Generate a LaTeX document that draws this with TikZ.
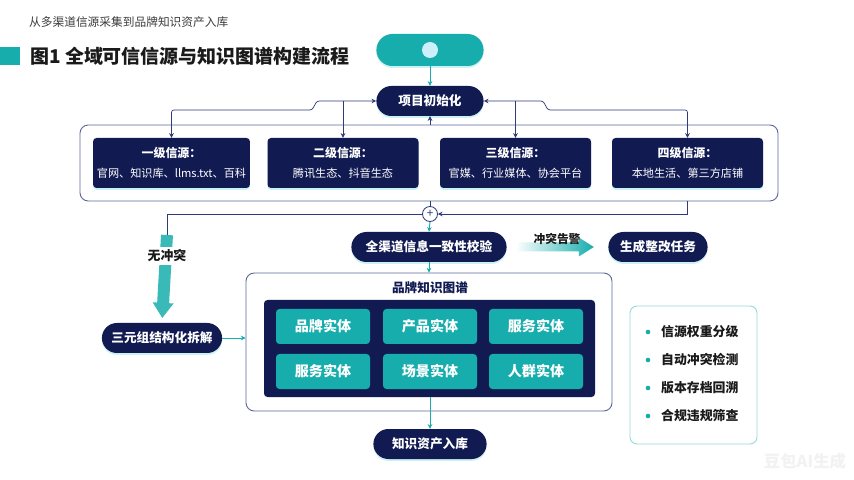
\documentclass[tikz,border=0pt]{standalone}
\usepackage{fontspec}
\setmainfont{Noto Sans CJK SC}
\usepackage{xcolor}
\usepackage{tikz}
\usetikzlibrary{shapes.misc,arrows.meta,shadows,calc}

\definecolor{navy}{HTML}{111B52}
\definecolor{tealc}{HTML}{17ADAD}
\definecolor{frameline}{HTML}{5C689C}
\definecolor{linec}{HTML}{2E3B78}
\definecolor{glow}{HTML}{BDEFF0}
\definecolor{textdark}{HTML}{1A1A1A}
\newlength\unitpx
\setlength\unitpx{0.03cm}
\newcommand{\fsz}[1]{\fontsize{#1}{#1}\selectfont}

\tikzset{
	glowshadow/.style={drop shadow={fill=glow, opacity=0.8, shadow xshift=0pt, shadow yshift=-1.6pt}},
	pill/.style={rounded rectangle, fill=navy, text=white, font=\fsz{10.8}\bfseries, minimum height=30*\unitpx, glowshadow},
	srcbox/.style={rectangle, rounded corners=3pt, fill=navy, text=white, align=center, font=\fontsize{9.5}{17}\selectfont, minimum width=151*\unitpx, minimum height=50*\unitpx, glowshadow},
	entity/.style={rectangle, rounded corners=3pt, fill=tealc, text=white, font=\fsz{12}\bfseries, minimum width=94*\unitpx, minimum height=35*\unitpx},
	panel/.style={rectangle, rounded corners=7pt, draw=frameline, line width=0.8pt, fill=white},
	conn/.style={draw=linec, line width=0.6pt},
	navytip/.style={-{Stealth[length=4pt,width=4pt]}},
	flow/.style={draw=tealc, line width=0.8pt, -{Stealth[length=4pt,width=4pt]}},
}

\begin{document}
\begin{tikzpicture}[x=0.03cm, y=-0.03cm]
	\fill[white] (0,0) rectangle (854,480);
	\useasboundingbox (0,0) rectangle (854,480);

	\node[anchor=west, text=textdark!85, font=\fsz{10}] (subtitle) at (25,22) {从多渠道信源采集到品牌知识资产入库};
	\fill[tealc] (0,47) rectangle (20,65);
	\node[anchor=west, text=textdark, font=\fsz{16.2}\bfseries] (title) at (26,56) {图1 全域可信信源与知识图谱构建流程};

	\node[rounded rectangle, fill=tealc, minimum width=115*\unitpx, minimum height=32*\unitpx, glowshadow] (start) at (430,50) {};
	\node[circle, fill=cyan!20!white, minimum size=16*\unitpx, inner sep=0pt] (dot) at (start) {};
	\node[pill, minimum width=115*\unitpx] (init) at (430,101) {项目初始化};
	\draw[flow] (start.south) -- (init.north);

	\node[panel, minimum width=698*\unitpx, minimum height=76*\unitpx] (srcframe) at (429,163) {};
	\node[srcbox] (s1) at (171.5,163) {{\fontsize{10.2}{17}\selectfont\bfseries 一级信源：}\\官网、知识库、llms.txt、百科};
	\node[srcbox] (s2) at (343,163) {{\fontsize{10.2}{17}\selectfont\bfseries 二级信源：}\\腾讯生态、抖音生态};
	\node[srcbox] (s3) at (515.5,163) {{\fontsize{10.2}{17}\selectfont\bfseries 三级信源：}\\官媒、行业媒体、协会平台};
	\node[srcbox] (s4) at (687.5,163) {{\fontsize{10.2}{17}\selectfont\bfseries 四级信源：}\\本地生活、第三方店铺};

	\coordinate (lj) at (317,101);
	\coordinate (rj) at (543,101);
	\draw[conn, {Stealth[length=4pt,width=4pt]}-{Stealth[length=4pt,width=4pt]}, rounded corners=2pt] (init.west) -- (lj) -- ++(-5,9) -| (s1.north);
	\draw[conn, navytip] (s2.north |- init.west) -- (s2.north);
	\draw[conn, {Stealth[length=4pt,width=4pt]}-{Stealth[length=4pt,width=4pt]}, rounded corners=2pt] (init.east) -- (rj) -- ++(5,9) -| (s4.north);
	\draw[conn, navytip] (s3.north |- init.east) -- (s3.north);
	\draw[conn, navytip] (srcframe.north -| init.south) -- (init.south);

	\node[circle, draw=linec, line width=0.7pt, fill=white, minimum size=15*\unitpx, inner sep=0pt, text=linec, font=\fsz{10}] (plus) at (430,214) {+};
	\draw[conn] (plus.north |- srcframe.south) -- (plus.north);
	\draw[conn, navytip] (s4.south |- srcframe.south) |- (plus.east);
	\coordinate (split) at (167,235);
	\draw[conn] (plus.west) -| (split);

	\node[pill, minimum width=163*\unitpx] (check) at (429,247) {全渠道信息一致性校验};
	\node[pill, minimum width=107*\unitpx] (fix) at (658,247) {生成整改任务};
	\draw[flow] (plus.south) -- (check.north);
	\coordinate (ga) at ($(check.east)+(11,0)$);
	\shade[left color=tealc!3, right color=tealc] (ga) ++(0,-4.5) -- ++(61,0) -- ++(0,-5) -- ++(15,9.5) -- ++(-15,9.5) -- ++(0,-5) -- ++(-61,0) -- cycle;
	\node[text=textdark, font=\fsz{10}\bfseries] (alarm) at (557,239) {冲突告警};

	\node[pill, minimum width=128*\unitpx] (triple) at (162,338) {三元组结构化拆解};
	\draw[tealc!85, line width=10.2pt, -{Triangle[width=17pt,length=13pt]}, shorten >=4pt] (split) -- (triple.north);
	\node[fill=white, text=textdark, font=\fsz{11}\bfseries, inner sep=2pt] (nocf) at (167,256) {无冲突};

	\node[panel, minimum width=366*\unitpx, minimum height=138*\unitpx] (kg) at (429,342) {};
	\node[text=navy, font=\fsz{10.8}\bfseries] (kgtitle) at (430,288) {品牌知识图谱};
	\node[rectangle, rounded corners=3pt, fill=navy, minimum width=331*\unitpx, minimum height=97*\unitpx] (kgin) at (429.5,348.5) {};
	\node[entity] (e1) at (323,326.5) {品牌实体};
	\node[entity] (e2) at (430,326.5) {产品实体};
	\node[entity] (e3) at (536,326.5) {服务实体};
	\node[entity] (e4) at (323,371.5) {服务实体};
	\node[entity] (e5) at (430,371.5) {场景实体};
	\node[entity] (e6) at (536,371.5) {人群实体};
	\draw[flow] (check.south) -- (check.south |- kg.north);
	\draw[flow] (triple.east) -- (triple.east -| kg.west);

	\node[pill, minimum width=121*\unitpx] (store) at (430,444) {知识资产入库};
	\draw[flow] (kgin.south -| store.north) -- (store.north);

	\node[rectangle, rounded corners=6pt, draw=tealc!45, line width=0.8pt, fill=white, minimum width=127*\unitpx, minimum height=138*\unitpx] (notes) at (693.5,375) {};
	\foreach \t [count=\i] in {信源权重分级, 自动冲突检测, 版本存档回溯, 合规违规筛查} {
		\fill[tealc] (648,304+28*\i) circle (2pt);
		\node[anchor=west, text=textdark, font=\fsz{11}\bfseries] (note\i) at (657,304+28*\i) {\t};
	}

	\node[text=gray!10, font=\fsz{14}\bfseries] (mark) at (805,461) {豆包AI生成};
\end{tikzpicture}
\end{document}
